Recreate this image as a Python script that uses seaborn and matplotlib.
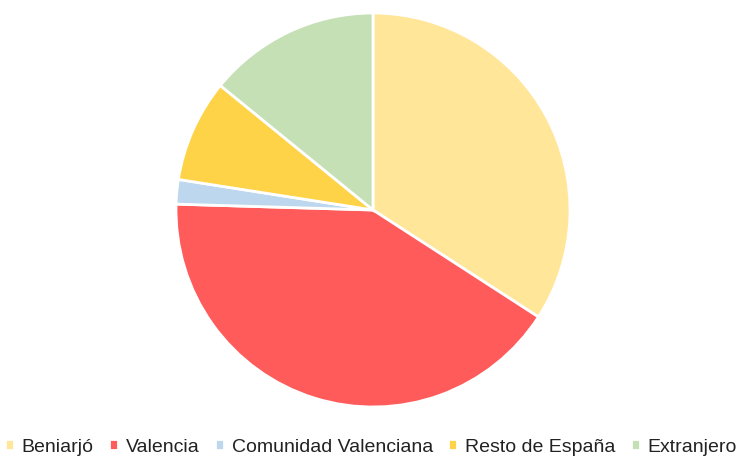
import matplotlib
matplotlib.use("Agg")
import matplotlib.pyplot as plt
import seaborn as sns

## data
labels = ["Beniarjó", "Valencia", "Comunidad Valenciana", "Resto de España", "Extranjero"]
shares = [34.1, 41.3, 2.0, 8.4, 14.1]
colors = ["#FFE699", "#FF5B5B", "#BDD7EE", "#FFD347", "#C5E0B4"]

sns.set_style("white")
plt.rcParams['font.family'] = ['Liberation Sans', 'DejaVu Sans']

fig = plt.figure(figsize=(7.42, 4.61), dpi=100)
ax = fig.add_axes([(373 - 197) / 742, (251 - 197) / 461, 394 / 742, 394 / 461])

wedges, _ = ax.pie(shares, colors=sns.color_palette(colors), startangle=90,
                   counterclock=False, radius=1,
                   wedgeprops=dict(edgecolor="white", linewidth=2))
ax.set_xlim(-1.0, 1.0)
ax.set_ylim(-1.0, 1.0)
ax.set_aspect("equal")
ax.axis("off")

fig.legend(wedges, labels, loc="center", bbox_to_anchor=(0.5, 1 - 447 / 461),
           ncol=5, frameon=False, fontsize=14, handlelength=0.45,
           handleheight=0.45, handletextpad=0.4, columnspacing=0.8,
           labelcolor="#222222")

fig.savefig("out.png", dpi=100)
